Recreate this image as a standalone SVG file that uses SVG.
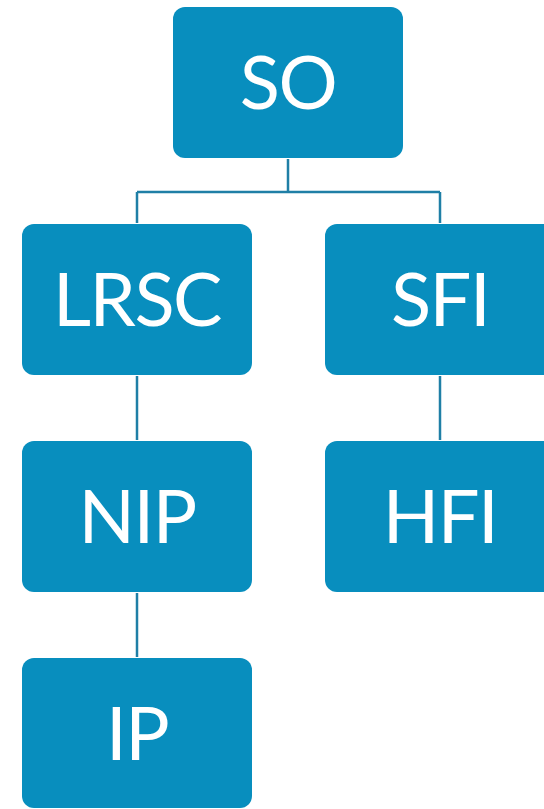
<svg xmlns="http://www.w3.org/2000/svg" width="544" height="809" viewBox="0 0 544 809">
<style>
.box{fill:#088EBE;}
.lbl{fill:#ffffff;font-family:Lato,"Open Sans","Liberation Sans",sans-serif;font-size:74px;letter-spacing:-1.5px;text-anchor:middle;}
.con{fill:none;stroke:#1F7FA6;stroke-width:2.5;}
</style>
<rect width="544" height="809" fill="#ffffff"/>
<g id="connectors">
<path class="con" d="M288 159 V192 M137 192 H440 M137 192 V223 M440 192 V223"/>
<path class="con" d="M137 376 V440"/>
<path class="con" d="M137 593 V657"/>
<path class="con" d="M440 376 V440"/>
</g>
<g id="SO"><rect class="box" x="173" y="7" width="230" height="151" rx="12"/><text class="lbl" x="288" y="109">SO</text></g>
<g id="LRSC"><rect class="box" x="22" y="224" width="230" height="151" rx="12"/><text class="lbl" x="137" y="326">LRSC</text></g>
<g id="SFI"><rect class="box" x="325" y="224" width="230" height="151" rx="12"/><text class="lbl" x="440" y="326">SFI</text></g>
<g id="NIP"><rect class="box" x="22" y="441" width="230" height="151" rx="12"/><text class="lbl" x="137" y="543">NIP</text></g>
<g id="HFI"><rect class="box" x="325" y="441" width="230" height="151" rx="12"/><text class="lbl" x="440" y="543">HFI</text></g>
<g id="IP"><rect class="box" x="22" y="658" width="230" height="150" rx="12"/><text class="lbl" x="137" y="760">IP</text></g>
</svg>
